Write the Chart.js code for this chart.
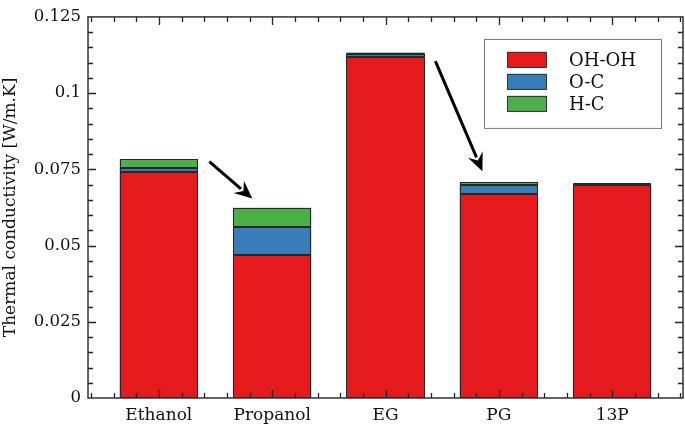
<!DOCTYPE html>
<html>
<head>
<meta charset="utf-8">
<script src="https://cdn.jsdelivr.net/npm/chart.js@4/dist/chart.umd.min.js"></script>
<style>
  html, body { margin: 0; padding: 0; background: #fff; }
  #wrap { width: 685px; height: 430px; position: relative; }
</style>
</head>
<body>
<div id="wrap"><canvas id="c" width="685" height="430"></canvas></div>
<script>
// ---- data ----
const categories = ['Ethanol', 'Propanol', 'EG', 'PG', '13P'];
const positions = [1, 2, 3, 4, 5];
const ohoh = [0.0740, 0.0470, 0.1120, 0.0670, 0.0700];
const oc   = [0.0016, 0.0091, 0.0009, 0.0030, 0.0003];
const hc   = [0.0027, 0.0063, 0.0004, 0.0008, 0.0001];
const seriesNames = ['OH-OH', 'O-C', 'H-C'];
const yTickLabels = ['0', '0.025', '0.05', '0.075', '0.1', '0.125'];
// annotation arrows in data coordinates [x0, y0, x1(tip), y1(tip)]
const arrows = [
  [1.446, 0.0775, 1.825, 0.0654],
  [3.440, 0.1105, 3.855, 0.0744]
];

const colors = ['#e41a1c', '#377eb8', '#4daf4a'];
const toXY = arr => arr.map((v, i) => ({ x: positions[i], y: v }));

Chart.defaults.font.family = "'DejaVu Serif', serif";
Chart.defaults.color = '#111';

const barOutline = {
  id: 'barOutline',
  afterDatasetsDraw(chart) {
    const ctx = chart.ctx;
    ctx.save();
    ctx.strokeStyle = '#262626';
    ctx.lineWidth = 1;
    chart.data.datasets.forEach((ds, i) => {
      chart.getDatasetMeta(i).data.forEach(el => {
        const { x, y, base, width } = el.getProps(['x', 'y', 'base', 'width'], true);
        const l = Math.round(x - width / 2) + 0.5, r = Math.round(x + width / 2) - 0.5;
        const t = Math.round(Math.min(y, base)) + 0.5, b = Math.round(Math.max(y, base)) - 0.5;
        ctx.strokeRect(l, t, r - l, Math.max(b - t, 0));
      });
    });
    ctx.restore();
  }
};

const frameTicks = {
  id: 'frameTicks',
  afterDraw(chart) {
    const { ctx, chartArea: a, scales } = chart;
    const xs = scales.x, ys = scales.y;
    ctx.save();
    ctx.strokeStyle = '#222';
    ctx.lineWidth = 1.3;
    for (let k = 2; k <= 28; k++) {
      const v = k * 0.2;
      if (v < xs.min || v > xs.max) continue;
      const px = Math.round(xs.getPixelForValue(v)) + 0.5;
      const major = Math.abs(v - Math.round(v)) < 1e-6;
      const L = major ? 8 : 5;
      ctx.beginPath();
      ctx.moveTo(px, a.bottom); ctx.lineTo(px, a.bottom - L);
      ctx.moveTo(px, a.top); ctx.lineTo(px, a.top + L);
      ctx.stroke();
    }
    for (let k = 1; k < 25; k++) {
      const v = k * 0.005;
      const py = Math.round(ys.getPixelForValue(v)) + 0.5;
      const major = k % 5 === 0;
      const L = major ? 8 : 5;
      ctx.beginPath();
      ctx.moveTo(a.left, py); ctx.lineTo(a.left + L, py);
      ctx.moveTo(a.right, py); ctx.lineTo(a.right - L, py);
      ctx.stroke();
    }
    ctx.lineWidth = 1.5;
    ctx.strokeStyle = '#333';
    ctx.strokeRect(a.left, a.top, a.right - a.left, a.bottom - a.top);

    // arrows
    ctx.strokeStyle = '#000';
    ctx.fillStyle = '#000';
    arrows.forEach(([x0, y0, x1, y1]) => {
      const p0x = xs.getPixelForValue(x0), p0y = ys.getPixelForValue(y0);
      const p1x = xs.getPixelForValue(x1), p1y = ys.getPixelForValue(y1);
      const ang = Math.atan2(p1y - p0y, p1x - p0x);
      const hl = 18, hw = 8;
      const bx = p1x - hl * Math.cos(ang), by = p1y - hl * Math.sin(ang);
      ctx.lineWidth = 3;
      ctx.beginPath();
      ctx.moveTo(p0x, p0y);
      ctx.lineTo(bx + 3 * Math.cos(ang), by + 3 * Math.sin(ang));
      ctx.stroke();
      ctx.beginPath();
      ctx.moveTo(p1x, p1y);
      ctx.lineTo(bx + hw * Math.sin(ang), by - hw * Math.cos(ang));
      ctx.lineTo(bx + 0.35 * hl * Math.cos(ang), by + 0.35 * hl * Math.sin(ang));
      ctx.lineTo(bx - hw * Math.sin(ang), by + hw * Math.cos(ang));
      ctx.closePath();
      ctx.fill();
    });

    // legend box
    const lx = a.right - 199, ly = a.top + 22, lw = 177, lh = 89;
    ctx.fillStyle = '#fff';
    ctx.fillRect(lx, ly, lw, lh);
    ctx.lineWidth = 1;
    ctx.strokeStyle = '#777';
    ctx.strokeRect(lx + 0.5, ly + 0.5, lw, lh);
    ctx.font = "18px 'DejaVu Serif'";
    ctx.textBaseline = 'middle';
    chart.data.datasets.forEach((ds, i) => {
      const cy = ly + 21 + i * 22;
      ctx.fillStyle = ds.backgroundColor;
      ctx.fillRect(lx + 23, cy - 8, 40, 16);
      ctx.strokeStyle = '#333';
      ctx.strokeRect(lx + 23.5, cy - 7.5, 39, 15);
      ctx.fillStyle = '#111';
      ctx.fillText(ds.label, lx + 85, cy + 1);
    });
    ctx.restore();
  }
};

new Chart(document.getElementById('c'), {
  type: 'bar',
  data: {
    datasets: [ohoh, oc, hc].map((arr, i) => ({
      label: seriesNames[i],
      data: toXY(arr),
      backgroundColor: colors[i],
      borderWidth: 0,
      inflateAmount: 0,
      barPercentage: 0.69,
      categoryPercentage: 1.0
    }))
  },
  options: {
    responsive: false,
    animation: false,
    devicePixelRatio: 1,
    layout: { padding: { top: 10, right: 2, left: 0, bottom: 0 } },
    plugins: { legend: { display: false }, tooltip: { enabled: false } },
    scales: {
      x: {
        type: 'linear',
        stacked: true,
        offset: false,
        min: 0.375,
        max: 5.625,
        grid: { display: false, drawTicks: false, offset: false },
        border: { display: false },
        afterBuildTicks: s => { s.ticks = positions.map(v => ({ value: v })); },
        afterFit: s => { s.height = 32; },
        ticks: {
          autoSkip: false,
          maxRotation: 0,
          padding: 7,
          font: { size: 17 },
          color: '#111',
          callback: (v) => categories[positions.indexOf(v)] ?? ''
        }
      },
      y: {
        stacked: true,
        min: 0,
        max: 0.125,
        grid: { display: false, drawTicks: false },
        border: { display: false },
        afterBuildTicks: s => { s.ticks = yTickLabels.map((t, i) => ({ value: i * 0.025 })); },
        afterFit: s => { s.width = 88; },
        ticks: {
          padding: 7,
          font: { size: 16.5 },
          color: '#111',
          callback: (v, i) => yTickLabels[i]
        },
        title: {
          display: true,
          text: 'Thermal conductivity [W/m.K]',
          font: { size: 17 },
          color: '#111',
          padding: { top: 0, bottom: 0 }
        }
      }
    }
  },
  plugins: [barOutline, frameTicks]
});
</script>
</body>
</html>
